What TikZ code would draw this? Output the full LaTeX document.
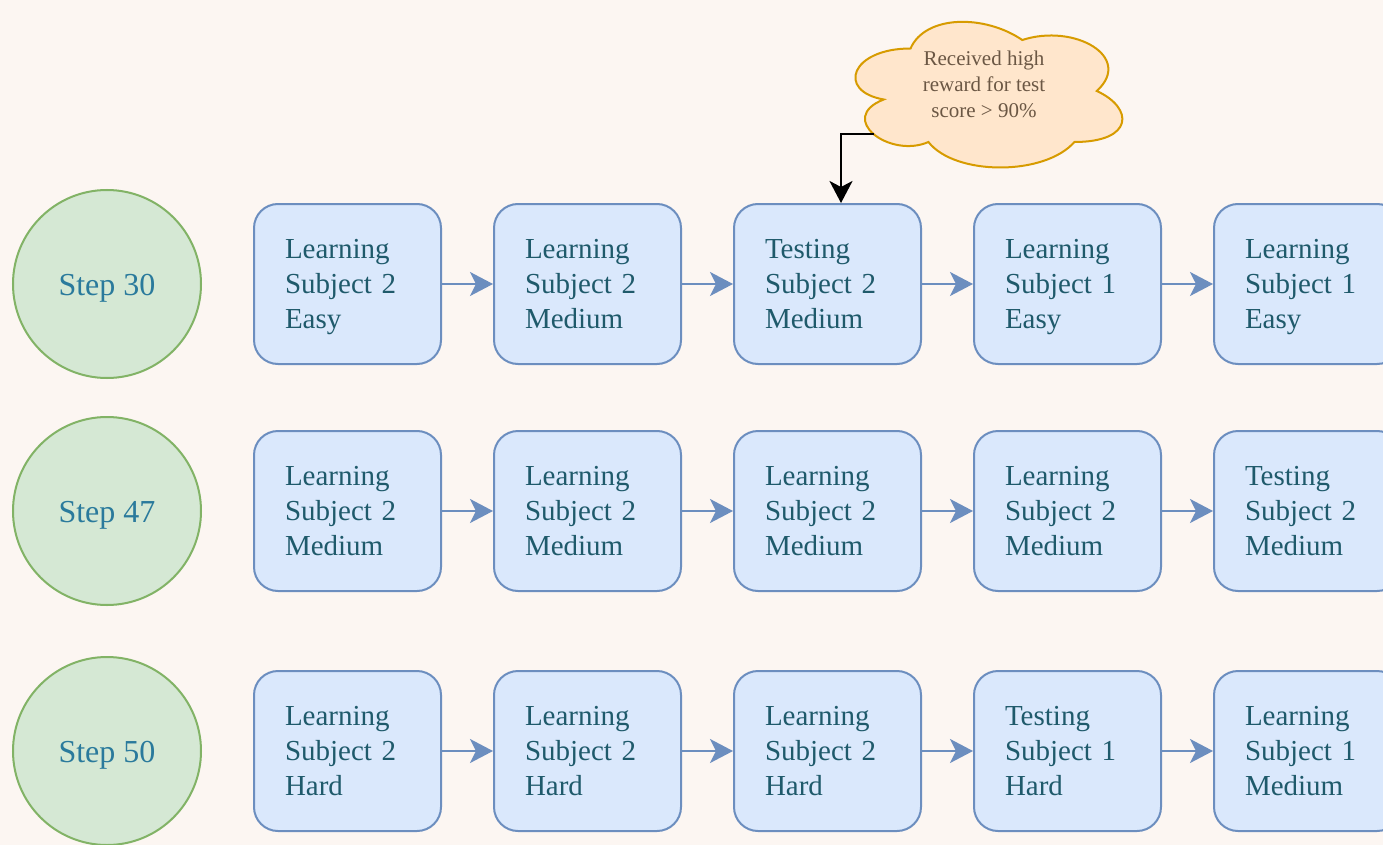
\documentclass[tikz,border=0pt]{standalone}
\usepackage{fontspec}
\setmainfont{Liberation Serif}
\usetikzlibrary{arrows.meta}
\definecolor{bg}{HTML}{FCF6F2}
\definecolor{stepfill}{HTML}{D5E8D4}
\definecolor{stepdraw}{HTML}{82B366}
\definecolor{steptext}{HTML}{2A7A9C}
\definecolor{boxfill}{HTML}{DAE8FC}
\definecolor{boxdraw}{HTML}{6C8EBF}
\definecolor{boxtext}{HTML}{1F5A6B}
\definecolor{cloudfill}{HTML}{FFE6CC}
\definecolor{clouddraw}{HTML}{D79B00}
\definecolor{cloudtext}{HTML}{6B5744}
\newcommand{\boxlines}[3]{\strut #1\\#2\\#3\rule[-6.5pt]{0pt}{6.5pt}}
\begin{document}
\begin{tikzpicture}[x=1pt,y=-1pt,
  stepnode/.style={circle, draw=stepdraw, fill=stepfill, line width=2pt, minimum size=188pt, inner sep=0pt},
  steplabel/.style={text=steptext, inner sep=0pt, font=\fontsize{32}{38}\selectfont},
  box/.style={rectangle, rounded corners=24pt, draw=boxdraw, fill=boxfill, line width=2pt, minimum width=187pt, minimum height=160pt, text width=125pt, inner xsep=31pt, inner ysep=0pt, align=left, text=boxtext, font=\fontsize{29}{35}\selectfont},
  flow/.style={draw=boxdraw, line width=2pt, -{Stealth[length=23pt,width=24pt,inset=6pt]}},
  note/.style={draw=black, line width=2.5pt, -{Stealth[length=22pt,width=23pt,inset=6pt]}},
  cloudlabel/.style={align=center, text=cloudtext, inner sep=0pt, font=\fontsize{21}{26}\selectfont}
]
\fill[bg] (0,0) rectangle (1383,845);
\useasboundingbox (0,0) rectangle (1383,845);
\clip (0,0) rectangle (1383,845);

% steps
\node[stepnode] (s1) at (107,284) {};
\node[stepnode] (s2) at (107,511) {};
\node[stepnode] (s3) at (107,751) {};
\node[steplabel] (t1) at ([yshift=-4pt]s1.center) {Step 30};
\node[steplabel] (t2) at ([yshift=-4pt]s2.center) {Step 47};
\node[steplabel] (t3) at ([yshift=-4pt]s3.center) {Step 50};

% row 1
\node[box] (b11) at (347.5,284) {\boxlines{Learning}{Subject 2}{Easy}};
\node[box] (b12) at (587.5,284) {\boxlines{Learning}{Subject 2}{Medium}};
\node[box] (b13) at (827.5,284) {\boxlines{Testing}{Subject 2}{Medium}};
\node[box] (b14) at (1067.5,284) {\boxlines{Learning}{Subject 1}{Easy}};
\node[box] (b15) at (1307.5,284) {\boxlines{Learning}{Subject 1}{Easy}};
% row 2
\node[box] (b21) at (347.5,511) {\boxlines{Learning}{Subject 2}{Medium}};
\node[box] (b22) at (587.5,511) {\boxlines{Learning}{Subject 2}{Medium}};
\node[box] (b23) at (827.5,511) {\boxlines{Learning}{Subject 2}{Medium}};
\node[box] (b24) at (1067.5,511) {\boxlines{Learning}{Subject 2}{Medium}};
\node[box] (b25) at (1307.5,511) {\boxlines{Testing}{Subject 2}{Medium}};
% row 3
\node[box] (b31) at (347.5,751) {\boxlines{Learning}{Subject 2}{Hard}};
\node[box] (b32) at (587.5,751) {\boxlines{Learning}{Subject 2}{Hard}};
\node[box] (b33) at (827.5,751) {\boxlines{Learning}{Subject 2}{Hard}};
\node[box] (b34) at (1067.5,751) {\boxlines{Testing}{Subject 1}{Hard}};
\node[box] (b35) at (1307.5,751) {\boxlines{Learning}{Subject 1}{Medium}};

\foreach \r in {1,2,3}{
  \draw[flow] (b\r1) -- (b\r2);
  \draw[flow] (b\r2) -- (b\r3);
  \draw[flow] (b\r3) -- (b\r4);
  \draw[flow] (b\r4) -- (b\r5);
}

% cloud
\draw[fill=cloudfill, draw=clouddraw, line width=2pt]
  (910.5,48.5) .. controls (850.9,48.5) and (836,91) .. (883.7,99.5)
  .. controls (836,118.2) and (889.6,159) .. (928.4,142)
  .. controls (955.2,176) and (1044.6,176) .. (1074.4,142)
  .. controls (1134,142) and (1134,108) .. (1096.75,91)
  .. controls (1134,57) and (1074.4,23) .. (1022.25,40)
  .. controls (985,14.5) and (925.4,14.5) .. (910.5,48.5) -- cycle;
\node[cloudlabel] (cloud) at (984,84) {Received high\\reward for test\\score > 90\%};
\coordinate (cloudexit) at (874,134);
\draw[note] (cloudexit) -| ([xshift=13.5pt]b13.north);
\end{tikzpicture}
\end{document}
